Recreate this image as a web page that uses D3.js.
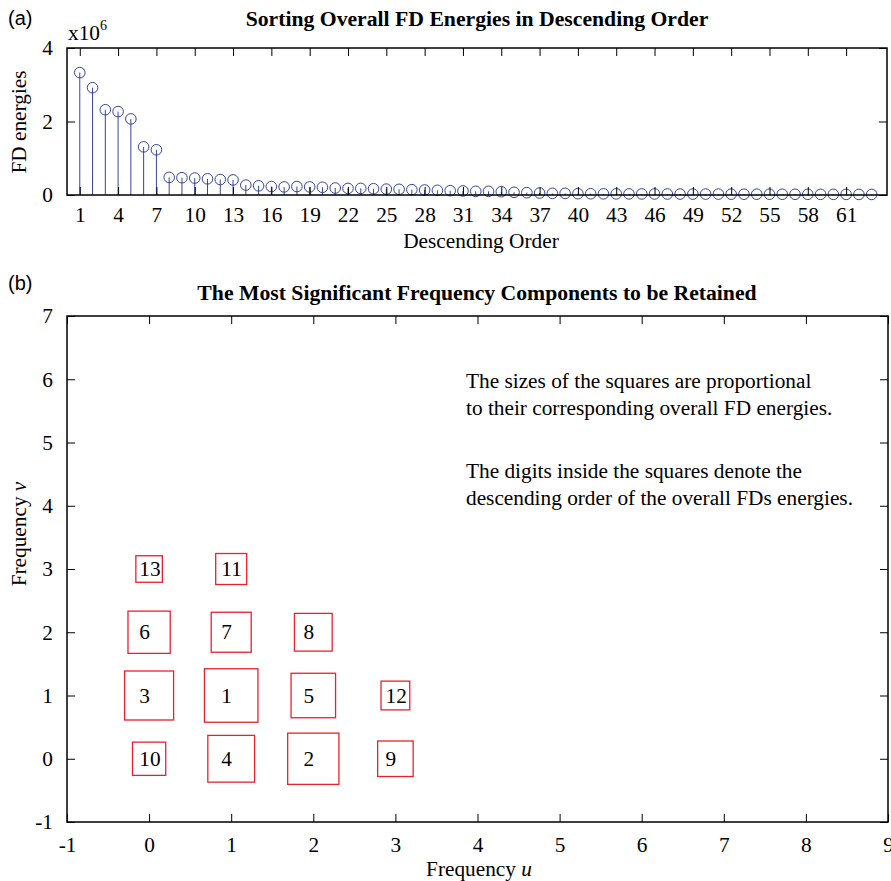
<!DOCTYPE html>
<html>
<head>
<meta charset="utf-8">
<script src="https://cdn.jsdelivr.net/npm/d3@7"></script>
<style>
  html, body { margin: 0; padding: 0; background: #fff; }
  svg { display: block; }
  .serif { font-family: "Liberation Serif", "Times New Roman", serif; }
  .sans { font-family: "Liberation Sans", Arial, sans-serif; }
</style>
</head>
<body>
<svg id="fig" width="891" height="881"></svg>
<script>
// ---- (a) overall FD energies, sorted (units of 1e6) ----
const energies = [
  3.33, 2.92, 2.32, 2.27, 2.07, 1.31, 1.23, 0.48, 0.47, 0.46,
  0.44, 0.42, 0.41, 0.27, 0.25, 0.23, 0.22, 0.23, 0.22, 0.21,
  0.19, 0.18, 0.18, 0.17, 0.16, 0.155, 0.145, 0.136, 0.127, 0.118,
  0.11, 0.10, 0.10, 0.09, 0.073, 0.063, 0.054, 0.045, 0.045, 0.036,
  0.034, 0.032, 0.031, 0.030, 0.029, 0.028, 0.027, 0.026, 0.025, 0.025,
  0.024, 0.023, 0.022, 0.022, 0.021, 0.020, 0.020, 0.019, 0.018, 0.018,
  0.017, 0.016, 0.015
];
const orderTicks = [1, 4, 7, 10, 13, 16, 19, 22, 25, 28, 31, 34, 37, 40, 43, 46, 49, 52, 55, 58, 61];
const energyTicks = [0, 2, 4];

// ---- (b) retained frequency components ----
const compRank = [1, 2, 3, 4, 5, 6, 7, 8, 9, 10, 11, 12, 13];
const compU    = [1, 2, 0, 1, 2, 0, 1, 2, 3, 0, 1, 3, 0];
const compV    = [1, 0, 1, 0, 1, 2, 2, 2, 0, 0, 3, 1, 3];
const uTicks = [-1, 0, 1, 2, 3, 4, 5, 6, 7, 8, 9];
const vTicks = [-1, 0, 1, 2, 3, 4, 5, 6, 7];

const noteLines = [
  ["The sizes of the squares are proportional",
   "to their corresponding overall FD energies."],
  ["The digits inside the squares denote the",
   "descending order of the overall FDs energies."]
];

const svg = d3.select("#fig");
const FS = 21.3;
const FS_TITLE = 21.7;
const blue = "#34459d";
const red = "#e8222b";
const tickLen = 8;
const plain = d => String(d);   // keeps an ASCII hyphen for negatives

function frameAxes(g, x, y, xt, yt, xPad, yPad) {
  const [x0, x1] = x.range();
  const [y0, y1] = y.range();
  g.append("g").attr("transform", `translate(0,${y0})`)
    .call(d3.axisBottom(x).tickValues(xt).tickFormat(plain)
      .tickSizeInner(-tickLen).tickSizeOuter(0).tickPadding(xPad));
  g.append("g").attr("transform", `translate(0,${y1})`)
    .call(d3.axisTop(x).tickValues(xt).tickFormat("")
      .tickSizeInner(-tickLen).tickSizeOuter(0));
  g.append("g").attr("transform", `translate(${x0},0)`)
    .call(d3.axisLeft(y).tickValues(yt).tickFormat(plain)
      .tickSizeInner(-tickLen).tickSizeOuter(0).tickPadding(yPad));
  g.append("g").attr("transform", `translate(${x1},0)`)
    .call(d3.axisRight(y).tickValues(yt).tickFormat("")
      .tickSizeInner(-tickLen).tickSizeOuter(0));
  g.selectAll(".domain").remove();
  g.selectAll(".tick line").attr("stroke", "#000").attr("stroke-width", 1);
  g.selectAll(".tick text").attr("class", "serif").attr("font-size", FS)
    .attr("fill", "#000");
  g.append("rect")
    .attr("x", x0).attr("y", y1).attr("width", x1 - x0).attr("height", y0 - y1)
    .attr("fill", "none").attr("stroke", "#000").attr("stroke-width", 1.5);
}

// ===== Panel (a) =====
const xa = d3.scaleLinear().domain([0, 64.2]).range([67, 887]);
const ya = d3.scaleLinear().domain([0, 4]).range([195, 48]);
const ga = svg.append("g");

const stems = ga.append("g");
stems.selectAll("line").data(energies).join("line")
  .attr("x1", (d, i) => xa(i + 1)).attr("x2", (d, i) => xa(i + 1))
  .attr("y1", ya(0)).attr("y2", d => ya(d))
  .attr("stroke", blue).attr("stroke-width", 1);
stems.selectAll("circle").data(energies).join("circle")
  .attr("cx", (d, i) => xa(i + 1)).attr("cy", d => ya(d)).attr("r", 5.3)
  .attr("fill", "none").attr("stroke", blue).attr("stroke-width", 1);

frameAxes(ga, xa, ya, orderTicks, energyTicks, 12, 14);

ga.append("text").attr("class", "serif").attr("font-size", FS)
  .attr("x", 68).attr("y", 40).text("x10")
  .append("tspan").attr("font-size", 14).attr("dy", -10).text("6");

ga.append("text").attr("class", "serif").attr("font-size", FS_TITLE)
  .attr("font-weight", "bold").attr("text-anchor", "middle")
  .attr("x", 477).attr("y", 26).text("Sorting Overall FD Energies in Descending Order");

ga.append("text").attr("class", "serif").attr("font-size", FS)
  .attr("text-anchor", "middle").attr("x", 481).attr("y", 248)
  .text("Descending Order");

ga.append("text").attr("class", "serif").attr("font-size", FS)
  .attr("text-anchor", "middle")
  .attr("transform", "translate(26,122) rotate(-90)")
  .text("FD energies");

svg.append("text").attr("class", "sans").attr("font-size", 20)
  .attr("x", 8).attr("y", 25).text("(a)");

// ===== Panel (b) =====
const xb = d3.scaleLinear().domain([-1, 9]).range([67, 888]);
const yb = d3.scaleLinear().domain([-1, 7]).range([822, 316]);
const side = d3.scaleLinear().domain([1, 13]).range([53.5, 26.5]);
const gb = svg.append("g");

frameAxes(gb, xb, yb, uTicks, vTicks, 15, 14);

const comps = compRank.map((r, i) => ({ rank: r, u: compU[i], v: compV[i] }));
const cg = gb.append("g").selectAll("g").data(comps).join("g");
cg.append("rect")
  .attr("x", d => xb(d.u) - side(d.rank) / 2)
  .attr("y", d => yb(d.v) - side(d.rank) / 2)
  .attr("width", d => side(d.rank)).attr("height", d => side(d.rank))
  .attr("fill", "none").attr("stroke", red).attr("stroke-width", 1.3);
cg.append("text").attr("class", "serif").attr("font-size", FS)
  .attr("x", d => xb(d.u - 0.12)).attr("y", d => yb(d.v))
  .attr("dy", "0.34em").text(d => d.rank);

gb.append("text").attr("class", "serif").attr("font-size", FS_TITLE)
  .attr("font-weight", "bold").attr("text-anchor", "middle")
  .attr("x", 477).attr("y", 300)
  .text("The Most Significant Frequency Components to be Retained");

const xl = gb.append("text").attr("class", "serif").attr("font-size", FS)
  .attr("text-anchor", "middle").attr("x", 479).attr("y", 876);
xl.append("tspan").text("Frequency ");
xl.append("tspan").attr("font-style", "italic").text("u");

const yl = gb.append("text").attr("class", "serif").attr("font-size", FS)
  .attr("text-anchor", "middle")
  .attr("transform", "translate(26,534) rotate(-90)");
yl.append("tspan").text("Frequency ");
yl.append("tspan").attr("font-style", "italic").text("v");

const noteY = [388, 478];
noteLines.forEach((para, p) => {
  para.forEach((line, k) => {
    gb.append("text").attr("class", "serif").attr("font-size", FS)
      .attr("x", 466).attr("y", noteY[p] + k * 27).text(line);
  });
});

svg.append("text").attr("class", "sans").attr("font-size", 20)
  .attr("x", 8).attr("y", 290).text("(b)");
</script>
</body>
</html>
